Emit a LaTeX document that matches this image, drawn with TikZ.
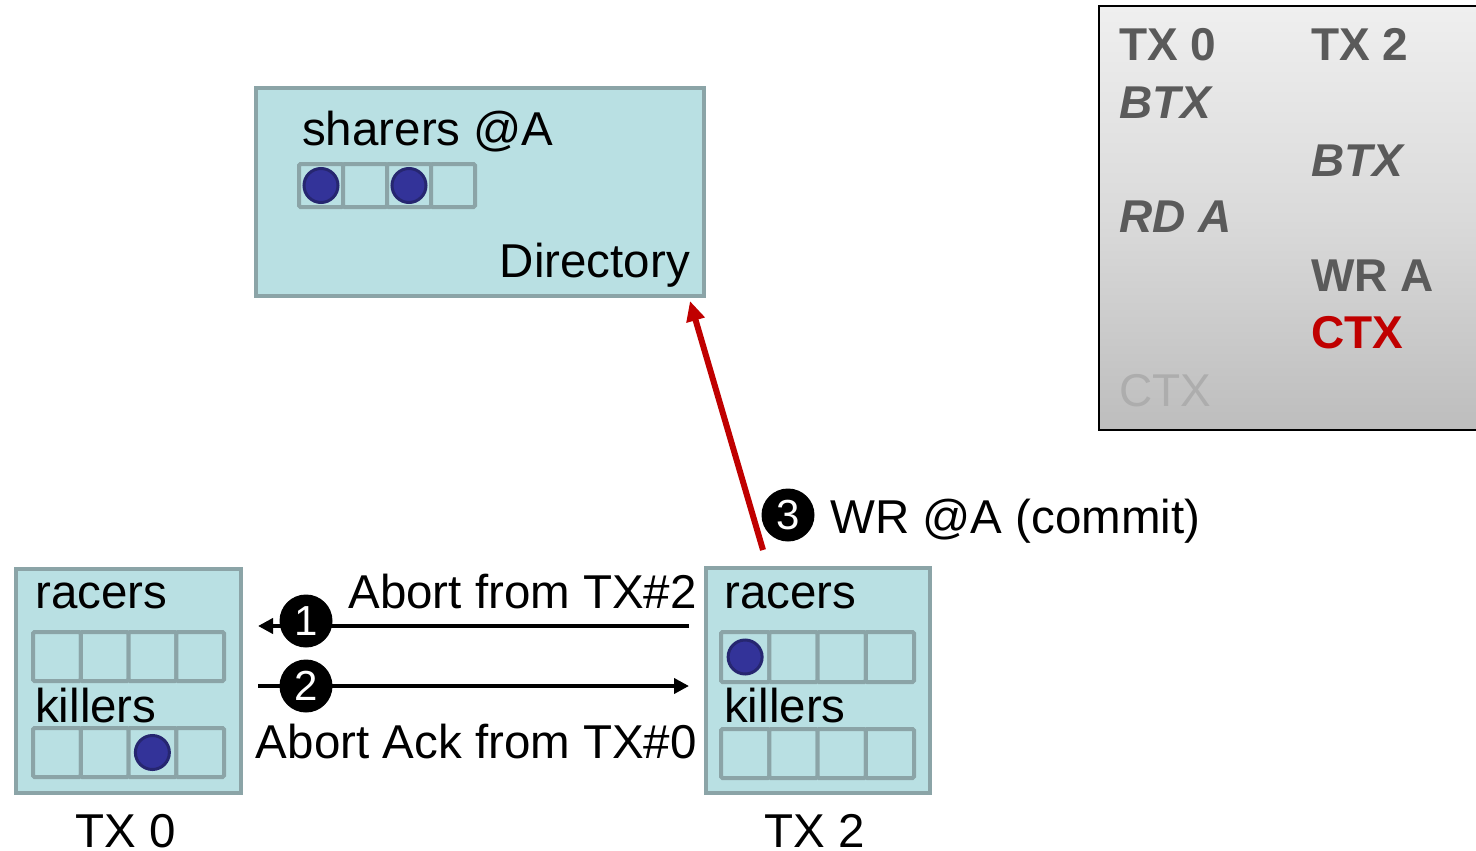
\documentclass[tikz,border=0pt]{standalone}
\usepackage{fontspec}
\setmainfont{Liberation Sans}
\usetikzlibrary{arrows.meta,calc}

\definecolor{panel}{HTML}{B9E0E3}
\definecolor{rim}{HTML}{8BA4A7}
\definecolor{dotblue}{HTML}{333399}
\definecolor{dotrim}{HTML}{262670}
\definecolor{legendtxt}{HTML}{5A5A5A}
\definecolor{commitred}{HTML}{C00000}
\definecolor{fadedtxt}{HTML}{ADADAD}
\definecolor{legtop}{HTML}{EFEFEF}
\definecolor{legmid}{HTML}{DADADA}
\definecolor{legbot}{HTML}{BDBDBD}

\tikzset{
  panelbox/.style={draw=rim, fill=panel, line width=4pt, inner sep=0pt, anchor=north west},
  bitcell/.style={draw=rim, fill=panel, line width=4pt, inner sep=0pt, rounded corners=1.5pt},
  bitdot/.style={circle, draw=dotrim, fill=dotblue, line width=3pt, minimum size=34pt, inner sep=0pt},
  lbl/.style={inner sep=0pt, font=\fontsize{47.5}{57}\selectfont},
  leg/.style={inner sep=0pt, anchor=base west, text=legendtxt, font=\fontsize{46}{55}\selectfont\bfseries},
  legit/.style={leg, font=\fontsize{46}{55}\selectfont\bfseries\itshape},
  numdot/.style={circle, fill=black, minimum size=53pt, inner sep=0pt, text=white,
                 font=\fontsize{42}{50}\selectfont},
  msg/.style={draw=black, line width=4pt, -{Triangle[length=15pt,width=15pt]}},
  commit/.style={draw=commitred, line width=6pt, -{Triangle[length=20pt,width=18pt]}}
}

% a row of four status bits: name, left x, top y, cell width, cell height
\newcommand{\bitrow}[5]{%
  \foreach \k in {1,...,4}{%
    \node[bitcell, minimum width=#4 pt, minimum height=#5 pt, anchor=north west]
      (#1-\k) at ({#2+(\k-1)*#4}, #3) {};
  }%
}

\begin{document}
\begin{tikzpicture}[x=1pt, y=-1pt]
\useasboundingbox (0,0) rectangle (1476,851);
\fill[white] (0,0) rectangle (1476,851);

% ---- legend: transaction timeline ----
\path[draw=black, line width=2pt, top color=legtop, bottom color=legbot, middle color=legmid]
  (1099,6) rectangle (1495,430);
\node[leg] (l-tx0) at (1119,61) {TX 0};
\node[leg] (l-tx2) at (1311,61) {TX 2};
\node[legit] (l-btx0) at (1119,118) {BTX};
\node[legit] (l-btx2) at (1311,176) {BTX};
\node[legit] (l-rd) at (1119,232) {RD A};
\node[leg] (l-wr) at (1311,291) {WR A};
\node[leg, text=commitred] (l-ctx2) at (1311,348) {CTX};
\node[inner sep=0pt, anchor=base west, text=fadedtxt, font=\fontsize{46}{55}\selectfont]
  (l-ctx0) at (1119,406) {CTX};

% ---- directory ----
\node[panelbox, minimum width=448pt, minimum height=208pt] (dir) at (254,86) {};
\node[lbl, anchor=base west] (shlbl) at (302,145) {sharers @A};
\node[lbl, anchor=base east] (dirlbl) at (690,277) {Directory};
\bitrow{sh}{297}{162}{44}{43}
\node[bitdot] (sd1) at (sh-1) {};
\node[bitdot] (sd3) at (sh-3) {};

% ---- TX 0 ----
\node[panelbox, minimum width=225pt, minimum height=224pt] (tx0) at (14,567) {};
\node[lbl, anchor=base west] (t0r) at (35,608) {racers};
\node[lbl, anchor=base west] (t0k) at (35,722) {killers};
\bitrow{t0r}{31}{630}{47.75}{49}
\bitrow{t0k}{31}{726}{47.75}{49}
\node[bitdot] (t0kd) at (t0k-3) {};
\node[lbl, anchor=base] (t0name) at (126,847) {TX 0};

% ---- TX 2 ----
\node[panelbox, minimum width=224pt, minimum height=225pt] (tx2) at (704,566) {};
\node[lbl, anchor=base west] (t2r) at (724,608) {racers};
\node[lbl, anchor=base west] (t2k) at (724,722) {killers};
\bitrow{t2r}{719}{630}{48.25}{50}
\bitrow{t2k}{719}{727}{48.25}{49}
\node[bitdot] (t2rd) at (t2r-1) {};
\node[lbl, anchor=base] (t2name) at (815,847) {TX 2};

% ---- messages between the transactions ----
\coordinate (row1) at (0,626);
\coordinate (row2) at (0,686);
\draw[msg] ($(tx2.west |- row1)+(-15,0)$) -- ($(tx0.east |- row1)+(15,0)$);
\draw[msg] ($(tx0.east |- row2)+(15,0)$) -- ($(tx2.west |- row2)+(-15,0)$);
\node[numdot] (n1) at (306,621) {1};
\node[numdot] (n2) at (306,686) {2};
\node[lbl, anchor=base east] (m1) at (697,608) {Abort from TX\#2};
\node[lbl, anchor=base east] (m2) at (697,758) {Abort Ack from TX\#0};

% ---- commit write to the directory ----
\draw[commit] ($(tx2.north west)+(59,-16)$) -- ($(dir.south east)+(-16,3)$);
\node[numdot] (n3) at (788,515) {3};
\node[lbl, anchor=base west] (m3) at (830,533) {WR @A (commit)};
\end{tikzpicture}
\end{document}
